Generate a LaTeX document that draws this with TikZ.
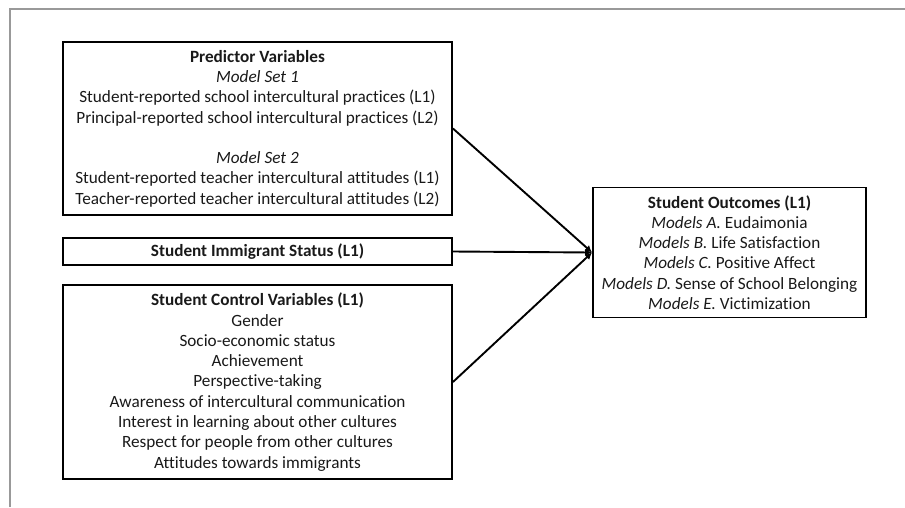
\documentclass[tikz,border=0pt]{standalone}
\usepackage{fontspec}
\setmainfont[Ligatures=NoCommon]{Carlito}
\usetikzlibrary{arrows.meta}
\begin{document}
\begin{tikzpicture}[x=1pt,y=-1pt,
  box/.style={draw=black, line width=1.9pt, align=center, inner sep=0pt,
    font=\fontsize{17.2}{20.3}\selectfont, text=black!90},
  link/.style={line width=1.9pt, -{Latex[length=7pt,width=7pt]}}]
\useasboundingbox (0,0) rectangle (905,507);
\draw[gray!80, line width=1.4pt] (10,507) -- (10,9) -- (905,9);
\node[box, minimum width=389pt, minimum height=173pt] (pred) at (257.5,128.5)
  {\textbf{Predictor Variables}\\
   \textit{Model Set 1}\\
   Student-reported school intercultural practices (L1)\\
   Principal-reported school intercultural practices (L2)\\[20.3pt]
   \textit{Model Set 2}\\
   Student-reported teacher intercultural attitudes (L1)\\
   Teacher-reported teacher intercultural attitudes (L2)};
\node[box, minimum width=389pt, minimum height=27pt] (imm) at (257.5,251.5)
  {\textbf{Student Immigrant Status (L1)}};
\node[box, minimum width=389pt, minimum height=194pt] (ctrl) at (257.5,382)
  {\textbf{Student Control Variables (L1)}\\
   Gender\\
   Socio-economic status\\
   Achievement\\
   Perspective-taking\\
   Awareness of intercultural communication\\
   Interest in learning about other cultures\\
   Respect for people from other cultures\\
   Attitudes towards immigrants};
\node[box, minimum width=273pt, minimum height=130pt] (out) at (729.5,252.5)
  {\textbf{Student Outcomes (L1)}\\
   \textit{Models A.} Eudaimonia\\
   \textit{Models B.} Life Satisfaction\\
   \textit{Models C.} Positive Affect\\
   \textit{Models D.} Sense of School Belonging\\
   \textit{Models E.} Victimization};
\draw[link] (pred.east) -- (out.west);
\draw[link] (imm.east) -- (out.west);
\draw[link] (ctrl.east) -- (out.west);
\end{tikzpicture}
\end{document}
